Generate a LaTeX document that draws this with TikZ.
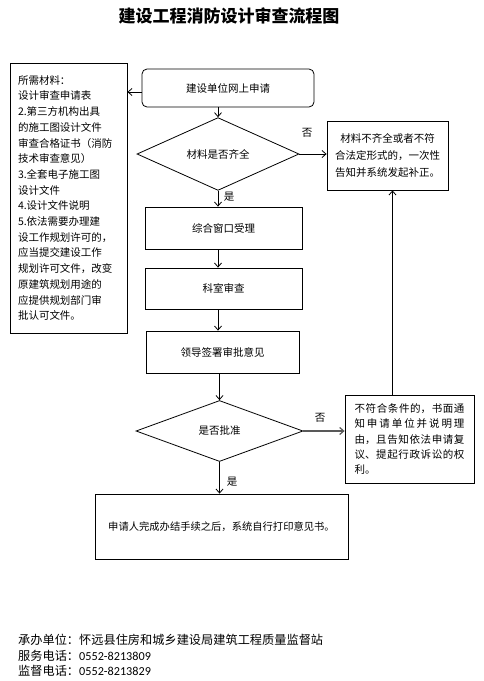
\documentclass[tikz,border=0pt]{standalone}
\usepackage{fontspec}
\setmainfont{Noto Sans CJK SC}
\newfontfamily\digitsfont{Carlito}
\usetikzlibrary{shapes.geometric,arrows.meta}
\XeTeXlinebreaklocale "zh"
\XeTeXlinebreakskip=0pt plus 1pt
\begin{document}
\begin{tikzpicture}[x=1pt,y=-1pt,
  box/.style={draw,line width=0.8pt,inner sep=0pt,font=\fontsize{10.5}{13}\selectfont},
  dec/.style={draw,diamond,line width=0.8pt,inner sep=0pt,font=\fontsize{10.5}{13}\selectfont},
  arr/.style={draw,line width=0.8pt,-{Straight Barb[length=4pt,width=7pt]}},
  lbl/.style={font=\fontsize{10.5}{12}\selectfont,inner sep=0pt},
  foot/.style={font=\fontsize{12.2}{14}\selectfont,inner sep=0pt,anchor=west}]
\fill[white] (0,0) rectangle (484,681);
\useasboundingbox (0,0) rectangle (484,681);

\node[font=\fontsize{17}{20}\selectfont\bfseries,inner sep=0pt] (title) at (229,16) {建设工程消防设计审查流程图};

\node[box,minimum width=117pt,minimum height=270pt,text width=101pt,align=left,
      font=\fontsize{10.5}{15.7}\selectfont] (mat) at (68.5,198)
 {所需材料：\\设计审查申请表\\2.第三方机构出具\\的施工图设计文件\\审查合格证书（消防\\技术审查意见）\\3.全套电子施工图\\设计文件\\4.设计文件说明\\5.依法需要办理建\\设工作规划许可的，\\应当提交建设工作\\规划许可文件，改变\\原建筑规划用途的\\应提供规划部门审\\批认可文件。};

\node[box,rounded corners=5pt,minimum width=172pt,minimum height=38pt] (start) at (228,88) {建设单位网上申请};
\node[dec,minimum width=162pt,minimum height=57pt] (d1) at (218,154) {材料是否齐全};
\node[box,minimum width=121pt,minimum height=69pt,align=center,
      font=\fontsize{10.5}{17}\selectfont] (r1) at (387.5,155.5)
 {材料不齐全或者不符\\合法定形式的，一次性\\告知并系统发起补正。};
\node[box,minimum width=157pt,minimum height=42pt] (b1) at (223.5,228) {综合窗口受理};
\node[box,minimum width=157pt,minimum height=41pt] (b2) at (223.5,288.5) {科室审查};
\node[box,minimum width=153pt,minimum height=42pt] (b3) at (222.5,352) {领导签署审批意见};
\node[dec,minimum width=167pt,minimum height=61pt] (d2) at (219.5,431) {是否批准};
\node[box,minimum width=129pt,minimum height=88pt,text width=110pt,align=justify,
      font=\fontsize{10.5}{15.2}\selectfont] (r2) at (409.5,439)
 {不符合条件的，书面通\linebreak 知申请单位并说明理\linebreak 由，且告知依法申请复\linebreak 议、提起行政诉讼的权\linebreak 利。};
\node[box,minimum width=253pt,minimum height=65pt,font=\fontsize{10.3}{13}\selectfont] (fin) at (221.5,526.5)
 {申请人完成办结手续之后，系统自行打印意见书。};

\coordinate (sw) at ([yshift=-4pt]start.west);
\draw[arr] (sw) -- (sw -| mat.east);
\draw[arr] (d1.north |- start.south) -- (d1.north);
\draw[arr] (d1.east) -- (d1.east -| r1.west);
\draw[arr] (d1.south) -- (d1.south |- b1.north);
\draw[arr] (d1.south |- b1.south) -- (d1.south |- b2.north);
\draw[arr] (d1.south |- b2.south) -- (d1.south |- b3.north);
\draw[arr] (d2.north |- b3.south) -- (d2.north);
\draw[arr,draw=black!65,line width=1.2pt] (d2.east) -- (d2.east -| r2.west);
\draw[arr] (d2.south) -- (d2.south |- fin.north);
\draw[arr] ([xshift=5pt]r1.south |- r2.north) -- ([xshift=5pt]r1.south);

\node[lbl] (no1) at (307,133) {否};
\node[lbl] (yes1) at (229,197) {是};
\node[lbl] (no2) at (320,418) {否};
\node[lbl] (yes2) at (232,482) {是};

\node[foot] (org) at (18,640) {承办单位：怀远县住房和城乡建设局建筑工程质量监督站};
\node[foot] (tel1) at (18,655.5) {服务电话：{\digitsfont 0552-8213809}};
\node[foot] (tel2) at (18,671) {监督电话：{\digitsfont 0552-8213829}};
\end{tikzpicture}
\end{document}
